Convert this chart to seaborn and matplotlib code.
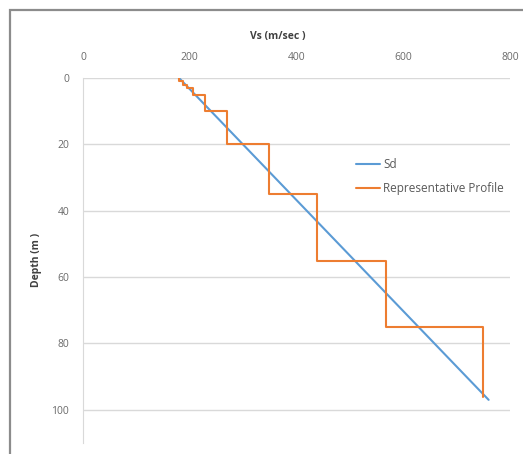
import matplotlib
matplotlib.use("Agg")
import matplotlib.pyplot as plt
import matplotlib.patches as mpatches
import numpy as np
import pandas as pd
import seaborn as sns

# Sd trend line
sd_vs = [180, 760]
sd_depth = [0, 97]

# representative step profile (Vs per layer, layer depths)
layer_vs = [180, 188, 195, 206, 228, 270, 348, 438, 567, 750]
layer_top = [0, 1, 2, 3, 5, 10, 20, 35, 55, 75]
layer_bot = [1, 2, 3, 5, 10, 20, 35, 55, 75, 96]

prof_vs = []
prof_depth = []
for v, t, b in zip(layer_vs, layer_top, layer_bot):
    prof_vs += [v, v]
    prof_depth += [t, b]

sd = pd.DataFrame({"vs": sd_vs, "depth": sd_depth})
prof = pd.DataFrame({"vs": prof_vs, "depth": prof_depth})

sns.set_style("white")
plt.rcParams['font.family'] = ['Open Sans', 'DejaVu Sans']

W, H = 523, 454
fig = plt.figure(figsize=(W / 100, H / 100), dpi=100)
ax = fig.add_axes([83 / W, 1 - 443 / H, (510 - 83) / W, (443 - 78) / H])

# outer frame of the screenshot
fig.patches.append(mpatches.Rectangle((10 / W, -0.1), 1.2, 1 - 10 / H + 0.1,
                                      transform=fig.transFigure, fill=False,
                                      edgecolor="#8c8c8c", linewidth=1.6))

sns.lineplot(data=sd, x="vs", y="depth", sort=False, estimator=None, ax=ax,
             color="#5B9BD5", linewidth=1.5, label="Sd")
sns.lineplot(data=prof, x="vs", y="depth", sort=False, estimator=None, ax=ax,
             color="#ED7D31", linewidth=1.5, label="Representative Profile")

ax.set_xlim(0, 800)
ax.set_ylim(110, 0)
ax.set_xticks([0, 200, 400, 600, 800])
ax.set_yticks([0, 20, 40, 60, 80, 100])
ax.xaxis.tick_top()
ax.tick_params(axis="both", length=0, labelsize=7.5, colors="#6a6a6a")
ax.tick_params(axis="x", pad=11)
ax.tick_params(axis="y", pad=10)
ax.grid(axis="y", color="#d9d9d9", linewidth=1)
ax.grid(axis="x", visible=False)
for s in ["top", "right", "bottom"]:
    ax.spines[s].set_visible(False)
ax.spines["left"].set_color("#d9d9d9")
ax.set_xlabel("")
ax.set_ylabel("")

fig.text(278 / W, 1 - 36 / H, "Vs (m/sec )", ha="center", va="center",
         fontsize=7.5, fontweight="bold", color="#404040")
fig.text(36 / W, 1 - 260 / H, "Depth (m )", ha="center", va="center",
         rotation=90, fontsize=7.5, fontweight="bold", color="#404040")

leg = ax.legend(loc="upper left", bbox_to_anchor=(0.615, 0.81), frameon=False,
                fontsize=8.5, handlelength=2.0, handletextpad=0.3, labelspacing=0.95)
for t in leg.get_texts():
    t.set_color("#595959")

fig.savefig("out.png", dpi=100)
